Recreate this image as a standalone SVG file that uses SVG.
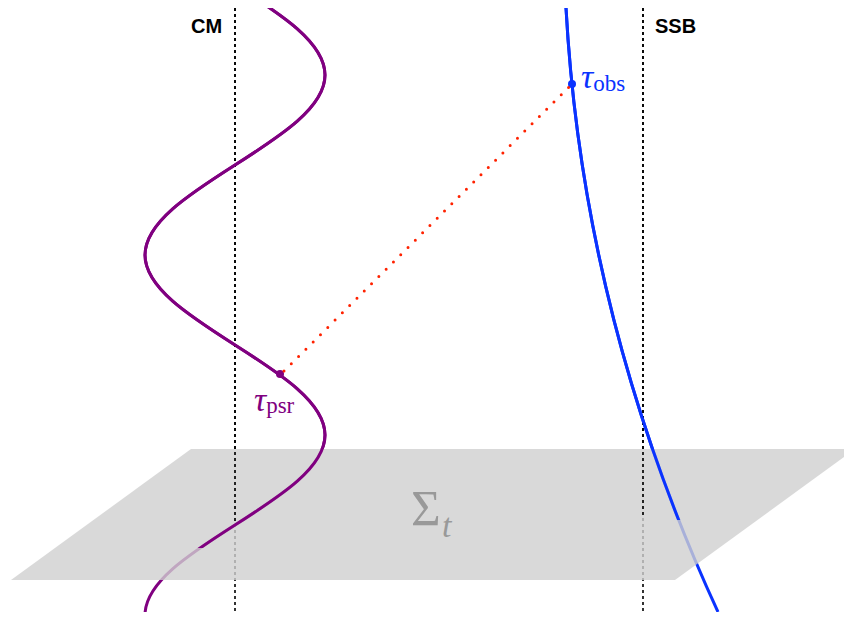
<svg xmlns="http://www.w3.org/2000/svg" xmlns:xlink="http://www.w3.org/1999/xlink" width="844" height="617" viewBox="0 0 844 617">
  <style>
    .axis { fill: none; stroke: #000; stroke-width: 1.6; stroke-dasharray: 3 3; }
    .psr { fill: none; stroke: #800080; stroke-width: 3; }
    .obs { fill: none; stroke: #0a33ff; stroke-width: 3; }
    .lbl { font-family: "Liberation Sans", Arial, sans-serif; font-weight: bold; font-size: 20px; fill: #000; }
    .math { font-family: "Liberation Serif", "Times New Roman", serif; }
  </style>
  <defs>
    <clipPath id="frame"><rect x="0" y="8" width="844" height="604"/></clipPath>
    <clipPath id="cutCM"><rect x="0" y="0" width="844" height="523"/></clipPath>
    <clipPath id="cutSSB"><rect x="0" y="0" width="844" height="515"/></clipPath>
    <clipPath id="cutPsr"><rect x="0" y="0" width="844" height="548"/></clipPath>
    <clipPath id="cutObs"><rect x="0" y="0" width="844" height="520"/></clipPath>
    <path id="cmLine" d="M235,8 V612"/>
    <path id="ssbLine" d="M643,8 V612"/>
    <path id="psrPath" d="M235,-15 C281.1,14.35 325,42.58 325,75 C325,107.42 281.1,135.65 235,165 C188.9,194.35 145,222.58 145,255 C145,287.42 188.9,315.65 235,345 C281.1,374.35 325,402.58 325,435 C325,467.42 281.1,495.65 235,525 C188.9,554.35 145,582.58 145,615"/>
    <path id="obsPath" d="M566,8 Q583,319 718,612"/>
  </defs>

  <!-- world lines behind the plane -->
  <g id="behind" clip-path="url(#frame)">
    <use xlink:href="#cmLine" class="axis"/>
    <use xlink:href="#ssbLine" class="axis"/>
    <use xlink:href="#psrPath" class="psr"/>
    <use xlink:href="#obsPath" class="obs"/>
  </g>

  <!-- hypersurface -->
  <g id="plane">
    <polygon points="191,449 855,449 675,580 11,580" fill="#d0d0d0" fill-opacity="0.8"/>
    <text x="411" y="525" class="math" font-size="51" fill="#999999">Σ</text>
    <text x="442" y="537" class="math" font-size="34" font-style="italic" fill="#999999">t</text>
  </g>

  <!-- parts of the lines in front of the plane -->
  <g id="CM">
    <g clip-path="url(#frame)"><use xlink:href="#cmLine" class="axis" clip-path="url(#cutCM)"/></g>
    <text x="191" y="33" class="lbl" font-size="21">CM</text>
  </g>
  <g id="SSB">
    <g clip-path="url(#frame)"><use xlink:href="#ssbLine" class="axis" clip-path="url(#cutSSB)"/></g>
    <text x="655" y="33" class="lbl">SSB</text>
  </g>
  <g id="pulsar">
    <g clip-path="url(#frame)"><use xlink:href="#psrPath" class="psr" clip-path="url(#cutPsr)"/></g>
    <circle cx="280" cy="374" r="4" fill="#800080"/>
    <text x="254" y="411" class="math" fill="#800080"><tspan font-size="34" font-style="italic">τ</tspan><tspan font-size="23" dy="2">psr</tspan></text>
  </g>
  <g id="observer">
    <g clip-path="url(#frame)"><use xlink:href="#obsPath" class="obs" clip-path="url(#cutObs)"/></g>
    <circle cx="572" cy="84" r="4" fill="#0a33ff"/>
    <text x="581" y="88" class="math" fill="#0a33ff"><tspan font-size="34" font-style="italic">τ</tspan><tspan font-size="23" dy="3">obs</tspan></text>
  </g>

  <!-- connector -->
  <g id="connectors">
    <line x1="284" y1="371" x2="572" y2="84" stroke="#ff2200" stroke-width="3" stroke-linecap="round" stroke-dasharray="0 10.3"/>
  </g>
</svg>
